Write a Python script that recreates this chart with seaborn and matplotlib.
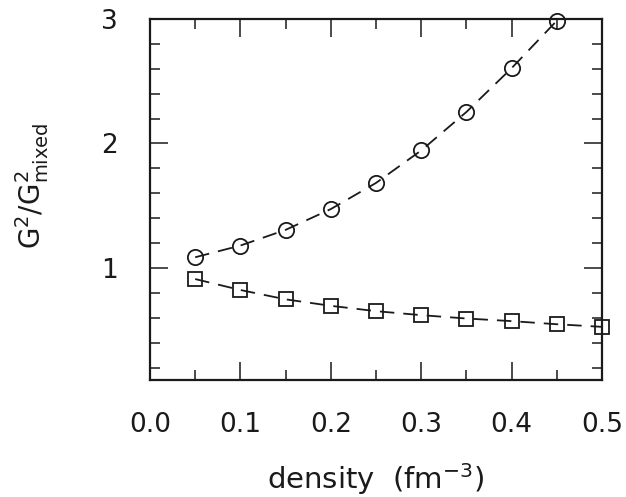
import numpy as np
import matplotlib
matplotlib.use("Agg")
import matplotlib.pyplot as plt
import seaborn as sns
from matplotlib.ticker import MultipleLocator

sns.set_theme(style="ticks")
plt.rcParams['font.family'] = ['DejaVu Sans']
plt.rcParams['mathtext.fontset'] = 'dejavusans'
plt.rcParams['text.color'] = 'k'
plt.rcParams['axes.labelcolor'] = 'k'

# values
density_circ = [0.05, 0.10, 0.15, 0.20, 0.25, 0.30, 0.35, 0.40, 0.45]
ratio_circ = [1.086, 1.18, 1.306, 1.473, 1.683, 1.944, 2.253, 2.605, 2.986]
density_sq = [0.05, 0.10, 0.15, 0.20, 0.25, 0.30, 0.35, 0.40, 0.45, 0.50]
ratio_sq = [0.911, 0.823, 0.748, 0.696, 0.653, 0.621, 0.594, 0.573, 0.548, 0.527]

fig = plt.figure(figsize=(6.26, 4.97), dpi=100)
ax = fig.add_axes([0.2396, 0.2354, 0.7221, 0.7264])

for xs, ys, mk, ms in [(density_circ, ratio_circ, 'o', 11),
                        (density_sq, ratio_sq, 's', 10.5)]:
    sns.lineplot(x=xs, y=ys, ax=ax, color='k', lw=1.3, marker=mk,
                 markersize=ms, mfc='none', mec='k', mew=1.3)
    ax.lines[-1].set_linestyle((0, (8, 5)))
    ax.lines[-1].set_clip_on(False)

ax.set_xlim(0, 0.5)
ax.set_ylim(0.1, 3)
ax.set_xticks([0.0, 0.1, 0.2, 0.3, 0.4, 0.5])
ax.set_yticks([1, 2, 3])
ax.xaxis.set_minor_locator(MultipleLocator(0.05))
ax.yaxis.set_minor_locator(MultipleLocator(0.2))
ax.set_xticklabels(['0.0', '0.1', '0.2', '0.3', '0.4', '0.5'])

ax.tick_params(which='both', direction='in', top=True, right=True,
               colors='k', labelcolor='k', width=1.1, labelsize=19, pad=23)
ax.tick_params(which='major', length=13)
ax.tick_params(which='minor', length=7)
for sp in ax.spines.values():
    sp.set_linewidth(1.6)
    sp.set_color('k')

ax.set_xlabel(r'density  (fm$^{-3}$)', fontsize=21, labelpad=17)
ax.set_ylabel(r'G$^2$/G$^2_{\rm mixed}$', fontsize=20)
ax.yaxis.set_label_coords(-0.218, 0.537)

fig.savefig('out.png', dpi=100, facecolor='white')
